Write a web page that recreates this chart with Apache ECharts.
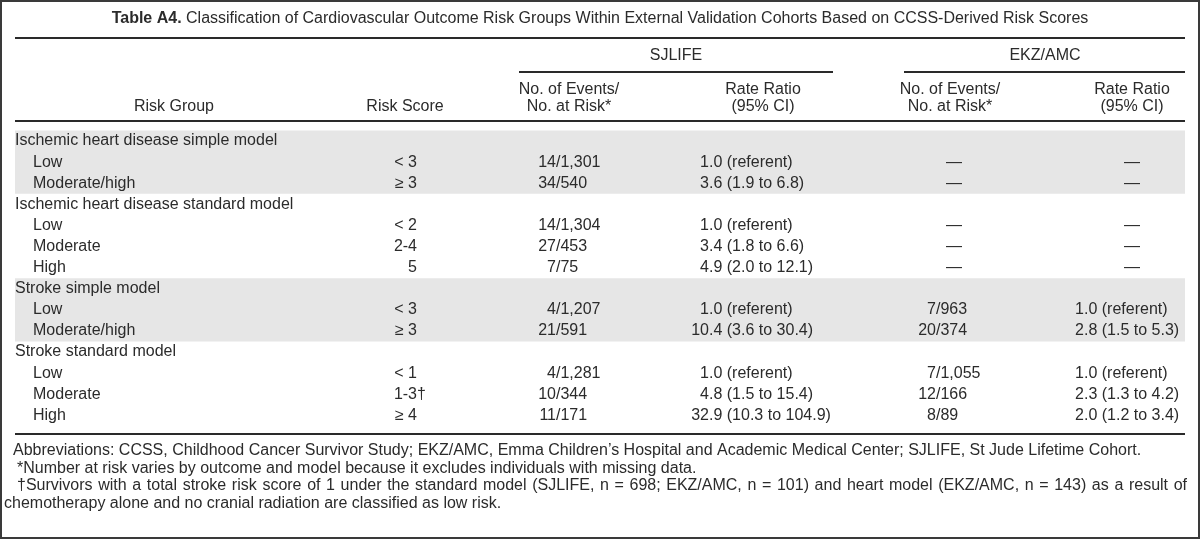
<!DOCTYPE html>
<html>
<head>
<meta charset="utf-8">
<script src="https://cdn.jsdelivr.net/npm/echarts@6/dist/echarts.min.js"></script>
<style>html,body{margin:0;padding:0;background:#fff;}#c{width:1200px;height:539px;}</style>
</head>
<body>
<div id="c"></div>
<script>
// ---------- data ----------
const titleBold = 'Table A4.';
const titleText = 'Classification of Cardiovascular Outcome Risk Groups Within External Validation Cohorts Based on CCSS-Derived Risk Scores';
const cohorts = ['SJLIFE', 'EKZ/AMC'];
const colHeaders = ['Risk Group', 'Risk Score', 'No. of Events/\nNo. at Risk*', 'Rate Ratio\n(95% CI)', 'No. of Events/\nNo. at Risk*', 'Rate Ratio\n(95% CI)'];
const riskGroups = ['Ischemic heart disease simple model', 'Low', 'Moderate/high',
  'Ischemic heart disease standard model', 'Low', 'Moderate', 'High',
  'Stroke simple model', 'Low', 'Moderate/high',
  'Stroke standard model', 'Low', 'Moderate', 'High'];
const isModelRow = [1,0,0, 1,0,0,0, 1,0,0, 1,0,0,0];
const riskScores = ['', '< 3', '≥ 3', '', '< 2', '2-4', '5', '', '< 3', '≥ 3', '', '< 1', '1-3†', '≥ 4'];
const sjlifeEvents = ['', '14/1,301', '34/540', '', '14/1,304', '27/453', '7/75', '', '4/1,207', '21/591', '', '4/1,281', '10/344', '11/171'];
const sjlifeRR = ['', '1.0 (referent)', '3.6 (1.9 to 6.8)', '', '1.0 (referent)', '3.4 (1.8 to 6.6)', '4.9 (2.0 to 12.1)', '', '1.0 (referent)', '10.4 (3.6 to 30.4)', '', '1.0 (referent)', '4.8 (1.5 to 15.4)', '32.9 (10.3 to 104.9)'];
const ekzEvents = ['', '—', '—', '', '—', '—', '—', '', '7/963', '20/374', '', '7/1,055', '12/166', '8/89'];
const ekzRR = ['', '—', '—', '', '—', '—', '—', '', '1.0 (referent)', '2.8 (1.5 to 5.3)', '', '1.0 (referent)', '2.3 (1.3 to 4.2)', '2.0 (1.2 to 3.4)'];
const shadedBands = [[0, 2], [7, 9]]; // first and last row index of grey groups
const footnotes = [
  'Abbreviations: CCSS, Childhood Cancer Survivor Study; EKZ/AMC, Emma Children\u2019s Hospital and Academic Medical Center; SJLIFE, St Jude Lifetime Cohort.',
  '*Number at risk varies by outcome and model because it excludes individuals with missing data.',
  '\u2020Survivors with a total stroke risk score of 1 under the standard model (SJLIFE, n = 698; EKZ/AMC, n = 101) and heart model (EKZ/AMC, n = 143) as a result of',
  'chemotherapy alone and no cranial radiation are classified as low risk.'
];
const footnoteJustified = [false, false, true, false];

// ---------- layout / style ----------
const FONT = '"Liberation Sans", Arial, Helvetica, sans-serif';
const TXT = '#2b2b2b';
const BODY = 16;
const L = 15, R = 1185;
const col = {
  group: 15, sub: 33, scoreRight: 417,
  sjSlash: 556, sjDot: 709, ekzSlash: 936, ekzDash: 954, ekzDot: 1084, ekzRRDash: 1132
};
const hdrCenters = [174, 405, 569, 763, 950, 1132];
const rowTop = 130.5, rowH = 21.1;

function txt(x, y, s, align, size, extra) {
  return Object.assign({
    type: 'text', x: x, y: y, silent: true,
    style: { text: s, fill: TXT, font: (size || BODY) + 'px ' + FONT, align: align || 'left', verticalAlign: 'middle' }
  }, extra || {});
}

function renderRow(params, api) {
  const i = api.value(1);
  const y = api.coord([0, i])[1];
  const X = v => api.coord([v, i])[0];
  const ch = [];
  ch.push(txt(X(isModelRow[i] ? col.group : col.sub), y, riskGroups[i], 'left'));
  let sc = riskScores[i];
  if (sc) {
    let dag = '';
    if (sc.endsWith('†')) { dag = '†'; sc = sc.slice(0, -1); }
    ch.push(txt(X(col.scoreRight), y, sc, 'right'));
    if (dag) ch.push(txt(X(col.scoreRight), y, dag, 'left'));
  }
  function slashCell(s, xs, xDash) {
    if (!s) return;
    if (s === '—') { ch.push(txt(X(xDash), y, s, 'center')); return; }
    const k = s.indexOf('/');
    ch.push(txt(X(xs), y, s.slice(0, k), 'right'));
    ch.push(txt(X(xs), y, s.slice(k), 'left'));
  }
  function dotCell(s, xd, xDash) {
    if (!s) return;
    if (s === '—') { ch.push(txt(X(xDash), y, s, 'center')); return; }
    const k = s.indexOf('.');
    ch.push(txt(X(xd), y, s.slice(0, k), 'right'));
    ch.push(txt(X(xd), y, s.slice(k), 'left'));
  }
  slashCell(sjlifeEvents[i], col.sjSlash, col.sjSlash);
  dotCell(sjlifeRR[i], col.sjDot, col.sjDot);
  slashCell(ekzEvents[i], col.ekzSlash, col.ekzDash);
  dotCell(ekzRR[i], col.ekzDot, col.ekzRRDash);
  return { type: 'group', children: ch };
}

function renderBand(params, api) {
  const a = api.value(0), b = api.value(1);
  const h = api.size([0, 1])[1];
  const y0 = api.coord([0, a])[1] - h / 2;
  const y1 = api.coord([0, b])[1] + h / 2;
  const x0 = api.coord([L, a])[0], x1 = api.coord([R, a])[0];
  return { type: 'rect', shape: { x: x0, y: y0, width: x1 - x0, height: y1 - y0 }, style: { fill: '#e6e6e6' }, silent: true };
}

const rowIdx = riskGroups.map((_, i) => i);
const g = [];
g.push({ type: 'rect', shape: { x: 1, y: 1, width: 1198, height: 537 }, style: { fill: 'none', stroke: '#3a3a3a', lineWidth: 2 }, silent: true });
g.push({ type: 'text', x: 600, y: 19, silent: true, style: {
  text: '{b|' + titleBold + '} ' + titleText, fill: TXT, font: BODY + 'px ' + FONT, align: 'center', verticalAlign: 'middle',
  rich: { b: { fontWeight: 'bold', fontSize: BODY, fontFamily: FONT, fill: TXT } } } });
function hline(x1, x2, y, w) {
  return { type: 'line', silent: true, shape: { x1: x1, y1: y, x2: x2, y2: y }, style: { stroke: '#2a2a2a', lineWidth: w } };
}
g.push(hline(L, R, 38, 2));
g.push(txt(676, 56, cohorts[0], 'center'));
g.push(hline(519, 833, 72, 2));
g.push(txt(1045, 56, cohorts[1], 'center'));
g.push(hline(904, R, 72, 2));
colHeaders.forEach((h, j) => {
  const lines = h.split('\n');
  if (lines.length === 1) g.push(txt(hdrCenters[j], 107, lines[0], 'center'));
  else { g.push(txt(hdrCenters[j], 89.5, lines[0], 'center')); g.push(txt(hdrCenters[j], 107, lines[1], 'center')); }
});
g.push(hline(L, R, 121, 2));
g.push(hline(L, R, 434, 2));

// footnotes (third line justified to the table width, like the source)
const FN = 16;
const ctx = document.createElement('canvas').getContext('2d');
ctx.font = FN + 'px ' + FONT;
const fnX = [13, 17, 17, 4];
footnotes.forEach((f, j) => {
  const y = 451 + j * 17.5;
  if (!footnoteJustified[j]) { g.push(txt(fnX[j], y, f, 'left', FN)); return; }
  const words = f.split(' ');
  const ww = words.map(w => ctx.measureText(w).width);
  const total = ww.reduce((a, b) => a + b, 0);
  const gap = (R + 2 - fnX[j] - total) / (words.length - 1);
  let x = fnX[j];
  words.forEach((w, k) => { g.push(txt(x, y, w, 'left', FN)); x += ww[k] + gap; });
});

const chart = echarts.init(document.getElementById('c'), null, { renderer: 'canvas' });
chart.setOption({
  animation: false,
  grid: { left: 0, right: 0, top: rowTop, height: rowH * riskGroups.length },
  xAxis: { type: 'value', min: 0, max: 1200, show: false },
  yAxis: { type: 'category', data: rowIdx, inverse: true, show: false },
  series: [
    { type: 'custom', renderItem: renderBand, data: shadedBands, encode: { x: -1, y: [0, 1] }, silent: true, z: 1 },
    { type: 'custom', renderItem: renderRow, data: rowIdx.map(i => [0, i]), encode: { x: 0, y: 1 }, silent: true, z: 2 }
  ],
  graphic: g
});
</script>
</body>
</html>
